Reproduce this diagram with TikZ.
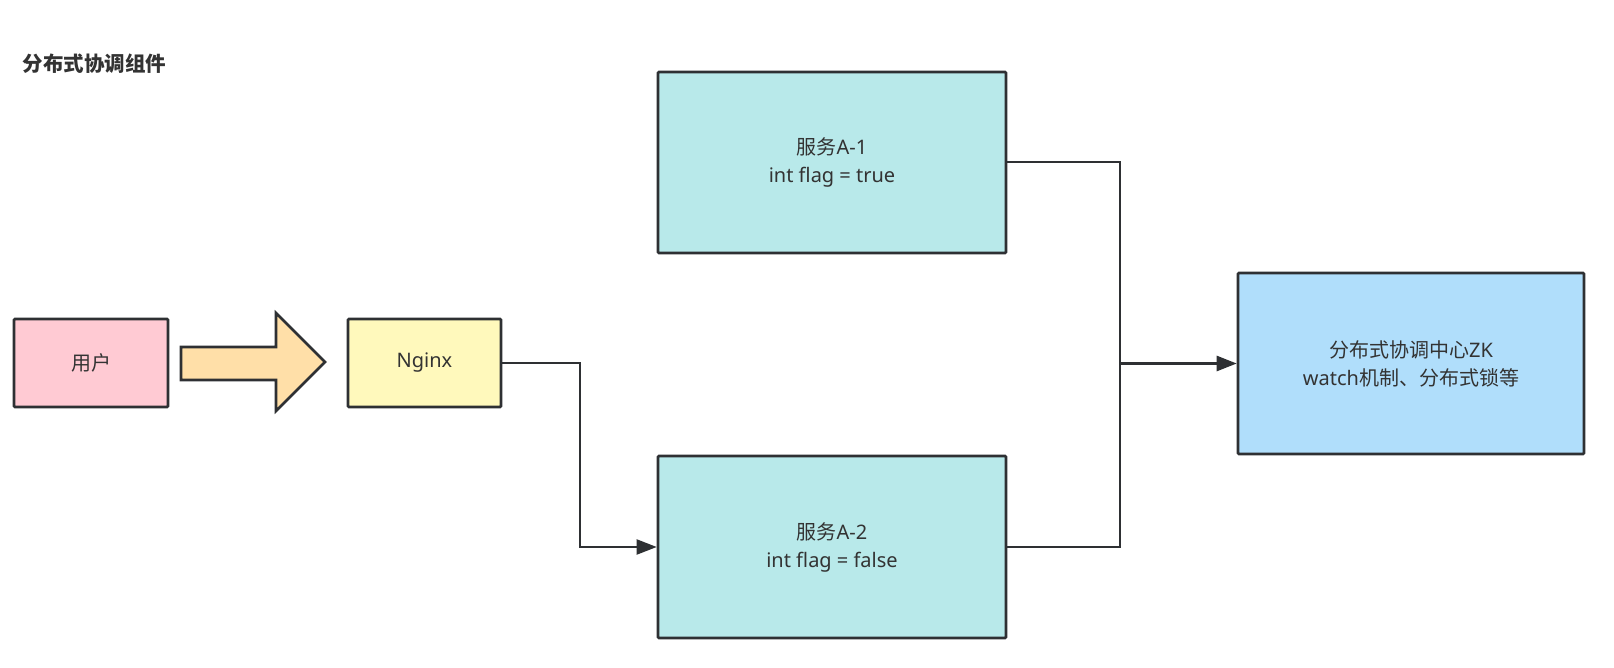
\documentclass[tikz,border=0pt]{standalone}
\usepackage{fontspec}
\setmainfont{Noto Sans}
\newfontfamily\cjk{Noto Sans CJK SC}
\usetikzlibrary{arrows.meta}
\definecolor{strk}{HTML}{2E3033}
\definecolor{txt}{HTML}{333333}
\definecolor{pinkf}{HTML}{FFCAD3}
\definecolor{orangef}{HTML}{FFDFA8}
\definecolor{yellowf}{HTML}{FFF9BC}
\definecolor{cyanf}{HTML}{B8E9EA}
\definecolor{bluef}{HTML}{B0DEFB}
\tikzset{
  box/.style={draw=strk, line width=2.6pt, rounded corners=1pt, inner sep=0pt, align=center,
    font=\fontsize{20}{28}\selectfont, text=txt},
  conn/.style={draw=strk, line width=2pt},
  arr/.style={conn, -{Triangle[length=20pt,width=15pt]}},
}
\begin{document}
\begin{tikzpicture}[x=1pt,y=-1pt]
\useasboundingbox (0,0) rectangle (1614,668);
\node[anchor=west, font=\fontsize{20.5}{24}\selectfont\cjk\bfseries, text=txt] (title) at (19,64) {分布式协调组件};
\node[box, fill=pinkf, minimum width=154pt, minimum height=88pt] (user) at (91,363) {{\cjk 用户}};
\node[box, fill=yellowf, minimum width=153pt, minimum height=88pt] (ng) at (424.5,363) {Nginx};
\node[box, fill=cyanf, minimum width=348pt, minimum height=181pt] (a1) at (832,162.5) {{\cjk 服务}A-1\\int flag = true};
\node[box, fill=cyanf, minimum width=348pt, minimum height=182pt] (a2) at (832,547) {{\cjk 服务}A-2\\int flag = false};
\node[box, fill=bluef, minimum width=346pt, minimum height=181pt] (zk) at (1411,363.5) {{\cjk 分布式协调中心}ZK\\watch{\cjk 机制、分布式锁等}};
\draw[draw=strk, line width=2.6pt, fill=orangef, line join=miter]
  (181,347) -- (276,347) -- (276,313) -- (325,362) -- (276,411) -- (276,380) -- (181,380) -- cycle;
\coordinate (j1) at (580,0);
\coordinate (j2) at (1120,0);
\draw[arr] (ng.east) -- (ng.east -| j1) -- (j1 |- a2.west) -- (a2.west);
\draw[conn] (a1.east) -- (a1.east -| j2) -- (a2.east -| j2) -- (a2.east);
\draw[arr, line width=2.6pt] (zk.west -| j2) -- (zk.west);
\end{tikzpicture}
\end{document}
